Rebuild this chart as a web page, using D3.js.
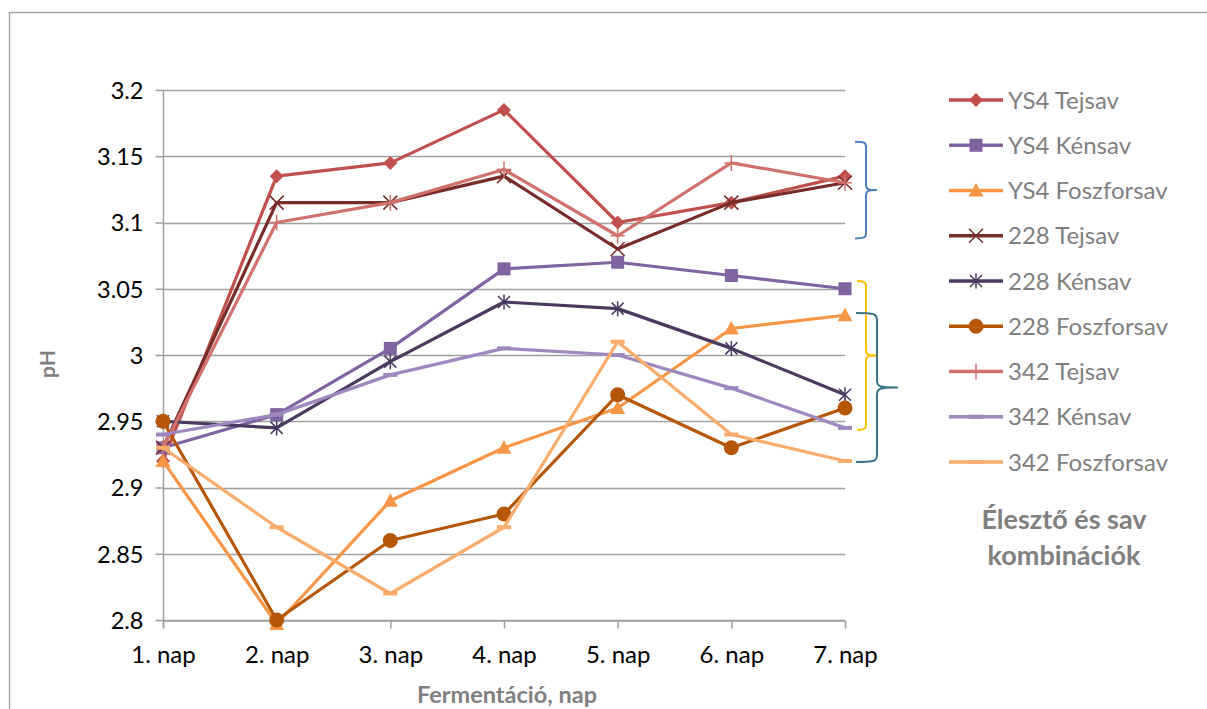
<!DOCTYPE html>
<html>
<head>
<meta charset="utf-8">
<script src="https://cdn.jsdelivr.net/npm/d3@7"></script>
<style>
  html, body { margin: 0; padding: 0; background: #ffffff; }
  svg { display: block; }
</style>
</head>
<body>
<svg id="chart" width="1207" height="709"></svg>
<script>
// ---------- data ----------
const days = ["1. nap", "2. nap", "3. nap", "4. nap", "5. nap", "6. nap", "7. nap"];
const yTicks = [2.8, 2.85, 2.9, 2.95, 3, 3.05, 3.1, 3.15, 3.2];
const yTickLabels = ["2.8", "2.85", "2.9", "2.95", "3", "3.05", "3.1", "3.15", "3.2"];

const seriesNames = ["YS4 Tejsav", "YS4 Kénsav", "YS4 Foszforsav", "228 Tejsav", "228 Kénsav",
                     "228 Foszforsav", "342 Tejsav", "342 Kénsav", "342 Foszforsav"];
const ys4Tejsav      = [2.92, 3.135, 3.145, 3.185, 3.10, 3.115, 3.135];
const ys4Kensav      = [2.93, 2.955, 3.005, 3.065, 3.07, 3.06, 3.05];
const ys4Foszforsav  = [2.92, 2.797, 2.89, 2.93, 2.96, 3.02, 3.03];
const t228Tejsav     = [2.93, 3.115, 3.115, 3.135, 3.08, 3.115, 3.13];
const t228Kensav     = [2.95, 2.945, 2.995, 3.04, 3.035, 3.005, 2.97];
const t228Foszforsav = [2.95, 2.80, 2.86, 2.88, 2.97, 2.93, 2.96];
const t342Tejsav     = [2.93, 3.10, 3.115, 3.14, 3.09, 3.145, 3.13];
const t342Kensav     = [2.94, 2.955, 2.985, 3.005, 3.00, 2.975, 2.945];
const t342Foszforsav = [2.93, 2.87, 2.82, 2.87, 3.01, 2.94, 2.92];
const seriesValues = [ys4Tejsav, ys4Kensav, ys4Foszforsav, t228Tejsav, t228Kensav,
                      t228Foszforsav, t342Tejsav, t342Kensav, t342Foszforsav];

const seriesColors = ["#C0504D", "#8064A2", "#F79646", "#772C2A", "#4A3A5F",
                      "#B65708", "#D0716E", "#9E88BD", "#F9AC6B"];
const seriesMarkers = ["diamond", "square", "triangle", "x", "star", "circle", "plus", "dash", "dash"];

const xTitle = "Fermentáció, nap";
const yTitle = "pH";
const legendTitle = ["Élesztő és sav", "kombinációk"];

// bracket annotations (value spans on the pH axis)
const bracketSpans = [[3.088, 3.161], [2.9435, 3.0558], [2.9192, 3.0317]];
const bracketColors = ["#4F81BD", "#FFC000", "#3E7584"];

// ---------- layout ----------
const svg = d3.select("#chart");
const font = "Lato, 'Open Sans', sans-serif";
const grey = "#a0a0a0";
const x = d3.scalePoint().domain(days).range([163, 845]);
const y = d3.scaleLinear().domain([2.8, 3.2]).range([620, 90]);

// outer frame
svg.append("path")
  .attr("d", "M9.5,720 L9.5,12.5 L1220,12.5")
  .attr("fill", "none").attr("stroke", "#a6a6a6").attr("stroke-width", 1.5);

// gridlines
svg.append("g").selectAll("line").data(yTicks).join("line")
  .attr("x1", 163).attr("x2", 845)
  .attr("y1", d => Math.round(y(d)) + 0.5).attr("y2", d => Math.round(y(d)) + 0.5)
  .attr("stroke", grey).attr("stroke-width", 1.5);

// y axis
const yAxis = svg.append("g").attr("transform", "translate(163.5,0)")
  .call(d3.axisLeft(y).tickValues(yTicks).tickSize(8).tickSizeOuter(0).tickPadding(12)
    .tickFormat((d, i) => yTickLabels[i]));
yAxis.select(".domain").attr("stroke", grey).attr("stroke-width", 1.5)
  .attr("d", "M0," + y(3.2) + "V628");
yAxis.selectAll(".tick line").attr("stroke", grey).attr("stroke-width", 1.5);
yAxis.selectAll(".tick text").attr("font-family", font).attr("font-size", 23.5)
  .attr("fill", "#000").attr("dy", "0.36em");

// x axis
const xAxis = svg.append("g").attr("transform", "translate(0,620.5)")
  .call(d3.axisBottom(x).tickSize(8).tickSizeOuter(0).tickPadding(17));
xAxis.select(".domain").attr("stroke", grey).attr("stroke-width", 1.5);
xAxis.selectAll(".tick line").attr("stroke", grey).attr("stroke-width", 1.5);
xAxis.selectAll(".tick text").attr("font-family", font).attr("font-size", 24)
  .attr("fill", "#000");

// axis titles
svg.append("text").text(xTitle)
  .attr("x", 507).attr("y", 703).attr("text-anchor", "middle")
  .attr("font-family", font).attr("font-size", 23.5).attr("font-weight", "bold").attr("fill", "#808080");
svg.append("text").text(yTitle)
  .attr("transform", "translate(55,364) rotate(-90)").attr("text-anchor", "middle")
  .attr("font-family", font).attr("font-size", 21).attr("font-weight", "bold").attr("fill", "#808080");

// marker drawing
function drawMarker(g, type, color) {
  const s = 7;
  switch (type) {
    case "diamond":
      g.append("path").attr("d", `M0,${-s}L${s},0L0,${s}L${-s},0Z`).attr("fill", color); break;
    case "square":
      g.append("rect").attr("x", -6.5).attr("y", -6.5).attr("width", 13).attr("height", 13).attr("fill", color); break;
    case "triangle":
      g.append("path").attr("d", `M0,${-7.5}L7.5,6L-7.5,6Z`).attr("fill", color); break;
    case "circle":
      g.append("circle").attr("r", 7.5).attr("fill", color); break;
    case "x":
      g.append("path").attr("d", `M-7,-7L7,7M-7,7L7,-7`).attr("stroke", color).attr("stroke-width", 1.5).attr("fill", "none"); break;
    case "star":
      g.append("path").attr("d", `M-6,-6L6,6M-6,6L6,-6M0,-7.5L0,7.5`).attr("stroke", color).attr("stroke-width", 1.5).attr("fill", "none"); break;
    case "plus":
      g.append("path").attr("d", `M-7,0L7,0M0,-8L0,8`).attr("stroke", color).attr("stroke-width", 1.5).attr("fill", "none"); break;
    case "dash":
      g.append("rect").attr("x", -7).attr("y", -2).attr("width", 14).attr("height", 4).attr("fill", color); break;
  }
}

// series lines
const line = d3.line().x((d, i) => x(days[i])).y(d => y(d));
const seriesG = svg.append("g");
seriesValues.forEach((vals, si) => {
  const g = seriesG.append("g");
  g.append("path").datum(vals).attr("d", line)
    .attr("fill", "none").attr("stroke", seriesColors[si]).attr("stroke-width", 3.2)
    .attr("stroke-linejoin", "round");
  vals.forEach((v, i) => {
    const m = g.append("g").attr("transform", `translate(${x(days[i])},${y(v)})`);
    drawMarker(m, seriesMarkers[si], seriesColors[si]);
  });
});

// legend
const legend = svg.append("g");
seriesNames.forEach((name, i) => {
  const cy = 100 + i * 45.25;
  const g = legend.append("g").attr("transform", `translate(0,${cy})`);
  g.append("line").attr("x1", 949).attr("x2", 1003).attr("y1", 0).attr("y2", 0)
    .attr("stroke", seriesColors[i]).attr("stroke-width", 3.5);
  const m = g.append("g").attr("transform", "translate(976,0)");
  drawMarker(m, seriesMarkers[i], seriesColors[i]);
  g.append("text").text(name).attr("x", 1008).attr("y", 0).attr("dy", "0.36em")
    .attr("font-family", font).attr("font-size", 24).attr("fill", "#7f7f7f");
});
legendTitle.forEach((t, i) => {
  svg.append("text").text(t).attr("x", 1064).attr("y", 529 + i * 36)
    .attr("text-anchor", "middle").attr("font-family", font).attr("font-size", 27)
    .attr("font-weight", "bold").attr("fill", "#808080");
});

// brackets
const bracketGeom = [
  { x0: 855, xv: 866, tip: 877, r: 5 },
  { x0: 857, xv: 866, tip: 877, r: 5 },
  { x0: 856, xv: 877, tip: 898, r: 7 }
];
bracketSpans.forEach((span, i) => {
  const { x0, xv, tip, r } = bracketGeom[i];
  const top = y(span[1]), bot = y(span[0]), mid = (top + bot) / 2;
  const d = `M${x0},${top} C${xv - 2},${top} ${xv},${top + 1} ${xv},${top + r} ` +
            `L${xv},${mid - r} C${xv},${mid - 1} ${xv + 2},${mid} ${tip},${mid} ` +
            `C${xv + 2},${mid} ${xv},${mid + 1} ${xv},${mid + r} ` +
            `L${xv},${bot - r} C${xv},${bot - 1} ${xv - 2},${bot} ${x0},${bot}`;
  svg.append("path").attr("d", d).attr("fill", "none")
    .attr("stroke", bracketColors[i]).attr("stroke-width", 2);
});
</script>
</body>
</html>
